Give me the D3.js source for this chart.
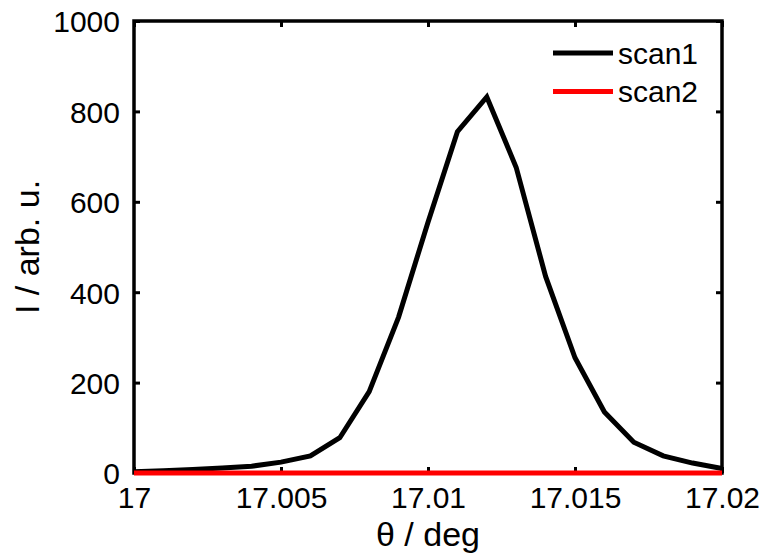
<!DOCTYPE html>
<html>
<head>
<meta charset="utf-8">
<script src="https://cdn.jsdelivr.net/npm/d3@7"></script>
<style>
  body { margin: 0; background: #fff; }
  svg { display: block; }
</style>
</head>
<body>
<svg id="chart"></svg>
<script>
// scan angles and intensities
const theta = [17.000, 17.001, 17.002, 17.003, 17.004, 17.005, 17.006, 17.007, 17.008, 17.009, 17.010,
               17.011, 17.012, 17.013, 17.014, 17.015, 17.016, 17.017, 17.018, 17.019, 17.020];
const scan1 = [3, 5, 8, 11, 15, 24, 38, 78, 180, 345, 555, 755, 832, 676, 435, 255, 135, 68, 38, 22, 10];
const scan2 = [0, 0, 0, 0, 0, 0, 0, 0, 0, 0, 0, 0, 0, 0, 0, 0, 0, 0, 0, 0, 0];
const seriesNames = ["scan1", "scan2"];
const seriesColors = ["#000000", "#ff0000"];
const xTicks = [17, 17.005, 17.01, 17.015, 17.02];
const yTicks = [0, 200, 400, 600, 800, 1000];

const width = 765, height = 556;
const margin = {top: 21, right: 43, bottom: 83, left: 134};
const font = "'Liberation Sans', Arial, sans-serif";

const svg = d3.select("#chart").attr("width", width).attr("height", height);

const x = d3.scaleLinear().domain([17, 17.02]).range([margin.left, width - margin.right]);
const y = d3.scaleLinear().domain([0, 1000]).range([height - margin.bottom, margin.top]);

const series = [scan1, scan2];

// frame box
svg.append("rect")
    .attr("x", margin.left)
    .attr("y", margin.top)
    .attr("width", width - margin.left - margin.right)
    .attr("height", height - margin.top - margin.bottom)
    .attr("fill", "none")
    .attr("stroke", "#000")
    .attr("stroke-width", 3.5);

// axes with inward ticks
const xAxis = svg.append("g")
    .attr("transform", `translate(0,${height - margin.bottom})`)
    .call(d3.axisBottom(x).tickValues(xTicks).tickSizeInner(-6).tickSizeOuter(0).tickPadding(14)
        .tickFormat(d3.format("")));
const xAxisTop = svg.append("g")
    .attr("transform", `translate(0,${margin.top})`)
    .call(d3.axisTop(x).tickValues(xTicks).tickSizeInner(-6).tickSizeOuter(0).tickFormat(""));
const yAxis = svg.append("g")
    .attr("transform", `translate(${margin.left},0)`)
    .call(d3.axisLeft(y).tickValues(yTicks).tickSizeInner(-6).tickSizeOuter(0).tickPadding(14)
        .tickFormat(d3.format("d")));
const yAxisRight = svg.append("g")
    .attr("transform", `translate(${width - margin.right},0)`)
    .call(d3.axisRight(y).tickValues(yTicks).tickSizeInner(-6).tickSizeOuter(0).tickFormat(""));

[xAxis, xAxisTop, yAxis, yAxisRight].forEach(g => {
    g.select(".domain").remove();
    g.selectAll(".tick line").attr("stroke", "#000").attr("stroke-width", 3);
    g.selectAll("text").attr("font-family", font).attr("font-size", 30).attr("fill", "#000");
});
yAxis.selectAll("text").attr("dy", "0.36em");

// data lines, drawn over the frame
const line = d3.line()
    .x((d, i) => x(theta[i]))
    .y(d => y(d));

svg.append("g")
    .selectAll("path")
    .data(series)
    .join("path")
    .attr("fill", "none")
    .attr("stroke", (d, i) => seriesColors[i])
    .attr("stroke-width", 5)
    .attr("stroke-linejoin", "miter")
    .attr("d", line);

// axis titles
svg.append("text")
    .attr("x", x(17.01))
    .attr("y", 546)
    .attr("text-anchor", "middle")
    .attr("font-family", font)
    .attr("font-size", 34)
    .text("θ / deg");

svg.append("text")
    .attr("transform", `translate(39,${(margin.top + height - margin.bottom) / 2}) rotate(-90)`)
    .attr("text-anchor", "middle")
    .attr("font-family", font)
    .attr("font-size", 34)
    .text("I / arb. u.");

// legend
const legend = svg.append("g")
    .selectAll("g")
    .data(seriesNames)
    .join("g")
    .attr("transform", (d, i) => `translate(553,${53 + i * 38.5})`);
legend.append("line")
    .attr("x1", 0).attr("x2", 60)
    .attr("stroke", (d, i) => seriesColors[i])
    .attr("stroke-width", 5);
legend.append("text")
    .attr("x", 65)
    .attr("dy", "0.36em")
    .attr("font-family", font)
    .attr("font-size", 30)
    .text(d => d);
</script>
</body>
</html>
